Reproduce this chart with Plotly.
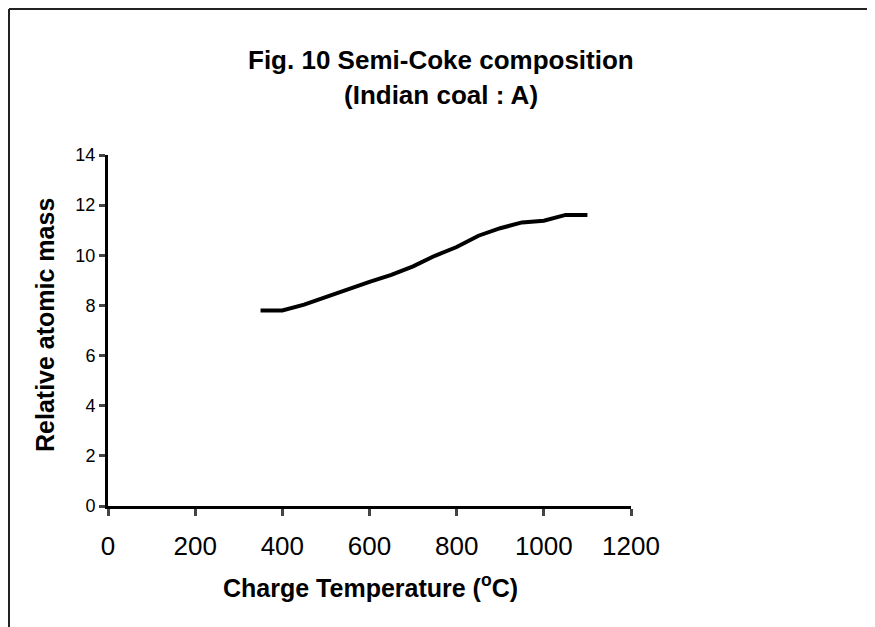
import plotly.graph_objects as go

temperature = [350, 400, 450, 500, 550, 600, 650, 700, 750, 800, 850, 900, 950, 1000, 1050, 1100]
atomic_mass = [7.8, 7.8, 8.03, 8.34, 8.63, 8.94, 9.22, 9.56, 9.98, 10.33, 10.78, 11.08, 11.31, 11.38, 11.61, 11.61]
x_ticks = [0, 200, 400, 600, 800, 1000, 1200]
y_ticks = [0, 2, 4, 6, 8, 10, 12, 14]

# page offset of the figure (body margin)
OFF = 8
W, H = 875 - OFF, 627 - OFF
PX0, PX1 = 108, 631   # plot area in page pixels
PY0, PY1 = 155, 506
L, T = PX0 - OFF, PY0 - OFF
R = W - L - (PX1 - PX0)
B = H - T - (PY1 - PY0)
pw, ph = PX1 - PX0, PY1 - PY0

def px(x):
    return (x - PX0) / pw

def py(y):
    return (PY1 - y) / ph

fig = go.Figure()
fig.add_trace(go.Scatter(x=temperature, y=atomic_mass, mode="lines",
                         line=dict(color="black", width=4), showlegend=False))

font = "Liberation Sans, Arial, sans-serif"
fig.update_layout(
    width=W, height=H,
    margin=dict(l=L, r=R, t=T, b=B),
    paper_bgcolor="white", plot_bgcolor="white",
    font=dict(family=font, color="black"),
    xaxis=dict(range=[0, 1200], tickvals=x_ticks, ticks="outside", ticklen=7, tickwidth=3,
               showline=True, linewidth=3, linecolor="black", showgrid=False, zeroline=False,
               tickfont=dict(size=26), ticklabelstandoff=8, fixedrange=True),
    yaxis=dict(range=[0, 14], tickvals=y_ticks, ticks="outside", ticklen=6, tickwidth=3,
               showline=True, linewidth=3, linecolor="black", showgrid=False, zeroline=False,
               tickfont=dict(size=18), fixedrange=True),
    annotations=[
        dict(text="<b>Fig. 10 Semi-Coke composition</b>", xref="paper", yref="paper",
             x=px(441), y=py(60), showarrow=False, font=dict(size=26), xanchor="center", yanchor="middle"),
        dict(text="<b>(Indian coal : A)</b>", xref="paper", yref="paper",
             x=px(441), y=py(95), showarrow=False, font=dict(size=26), xanchor="center", yanchor="middle"),
        dict(text="<b>Relative atomic mass</b>", xref="paper", yref="paper", textangle=-90,
             x=px(45), y=py(325), showarrow=False, font=dict(size=25), xanchor="center", yanchor="middle"),
        dict(text="<b>Charge Temperature (<sup>o</sup>C)</b>", xref="paper", yref="paper",
             x=px(370), y=py(586), showarrow=False, font=dict(size=25), xanchor="center", yanchor="middle"),
    ],
    shapes=[
        dict(type="line", xref="paper", yref="paper", x0=px(9), x1=px(9), y0=py(9), y1=py(640),
             line=dict(color="#222", width=2)),
        dict(type="line", xref="paper", yref="paper", x0=px(9), x1=px(890), y0=py(9), y1=py(9),
             line=dict(color="#222", width=2)),
    ],
)

fig.write_html("out.html")
